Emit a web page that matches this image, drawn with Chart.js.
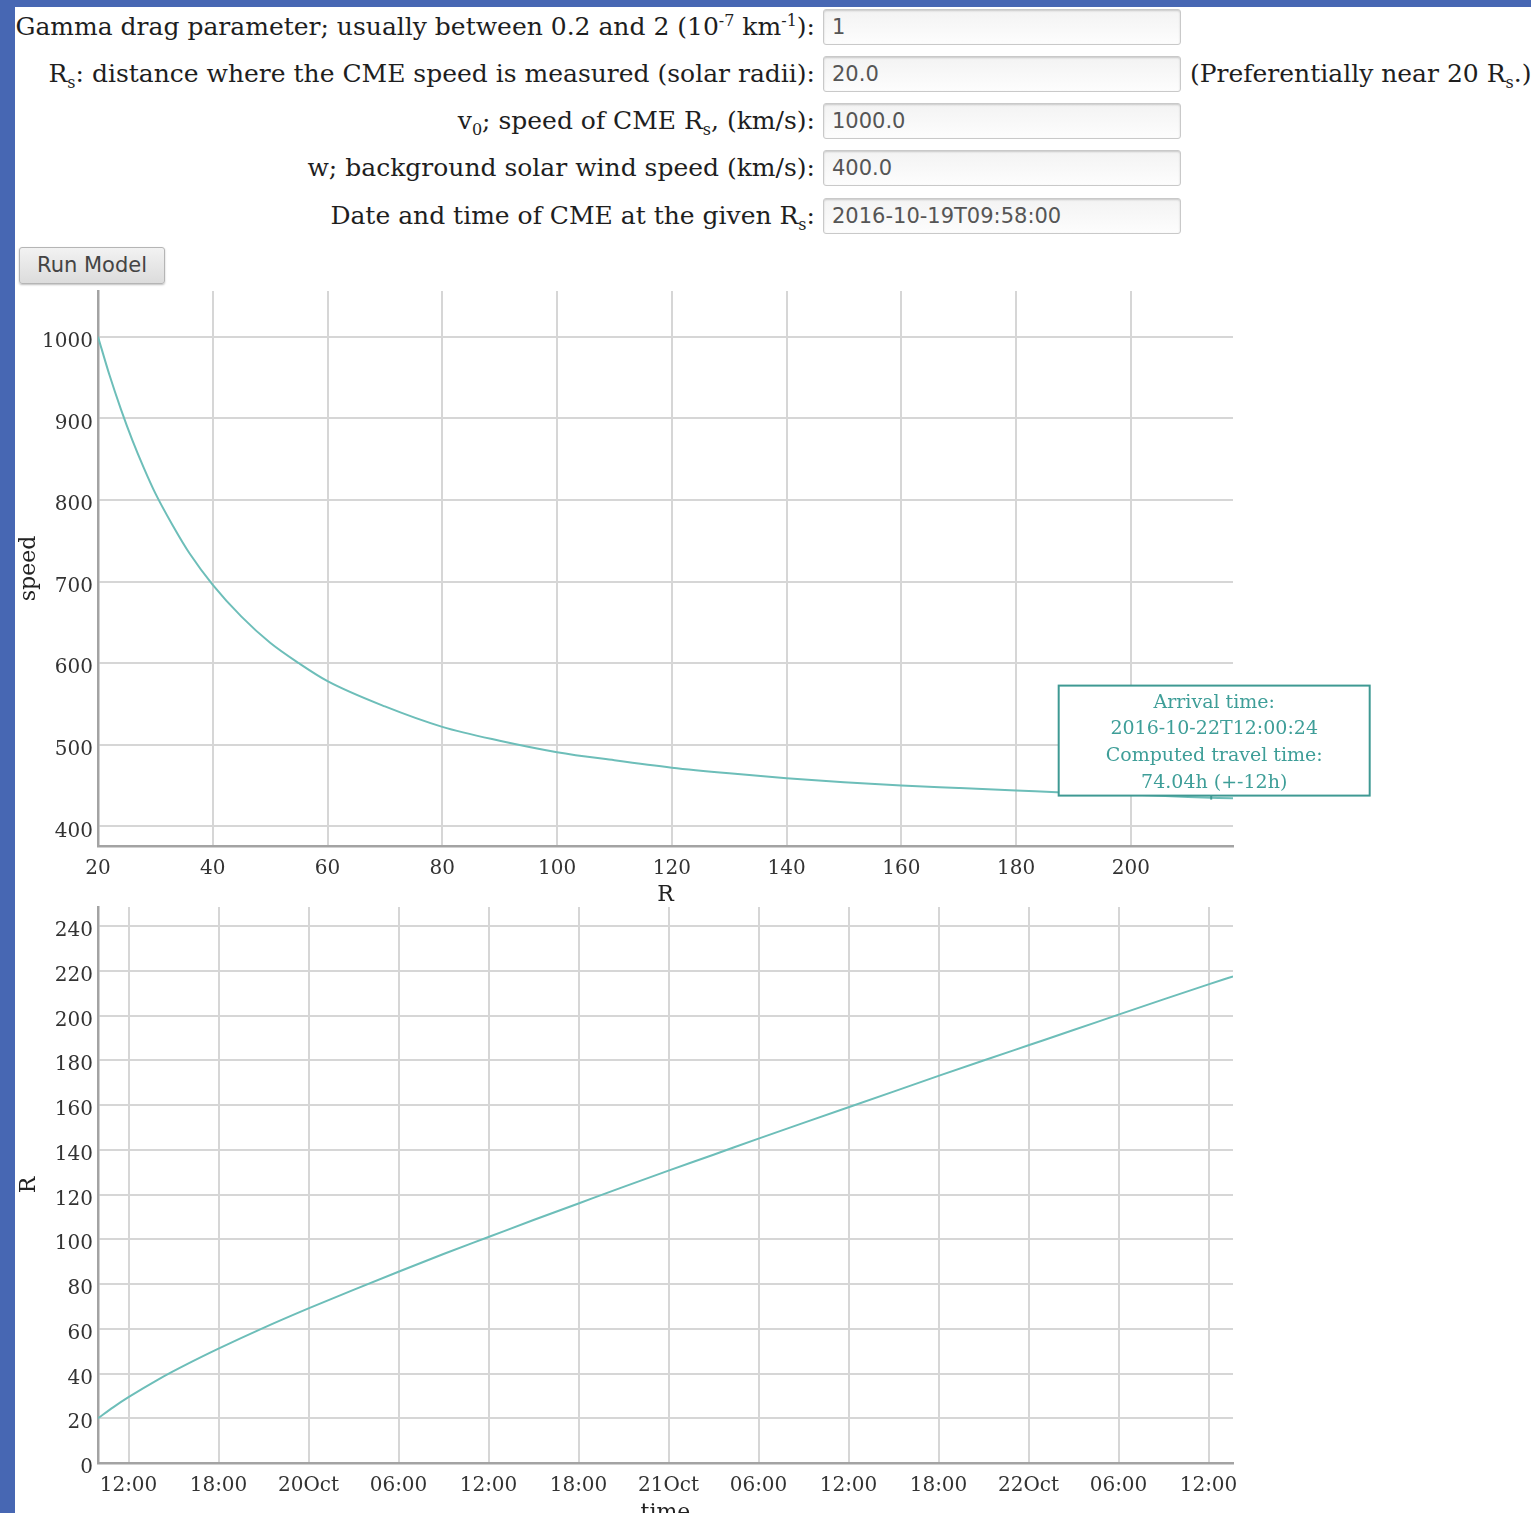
<!DOCTYPE html>
<html>
<head>
<meta charset="utf-8">
<title>Drag-based model</title>
<script src="https://cdn.jsdelivr.net/npm/chart.js@4.4.0/dist/chart.umd.min.js"></script>
<style>
  html, body { margin: 0; padding: 0; width: 1531px; height: 1513px; overflow: hidden; background: #4767b3; }
  #page { position: absolute; left: 15px; top: 7px; width: 1516px; height: 1506px; background: #fff; }
  .lbl { position: absolute; left: 0; width: 800px; height: 36px; line-height: 36px; text-align: right;
         font-family: "DejaVu Serif", serif; font-size: 25px; color: #1e1e1e; white-space: nowrap; }
  .lbl sup, .lbl sub { font-size: 16px; line-height: 0; }
  .inp { position: absolute; left: 808px; width: 348px; height: 34px; line-height: 34px; padding-left: 8px;
         border: 1px solid #c9c9c9; border-radius: 3px; background: linear-gradient(#f3f3f3, #fdfdfd);
         box-shadow: inset 0 1px 2px rgba(0,0,0,0.18); font-family: "DejaVu Sans", sans-serif; font-size: 21px; color: #555; }
  .note { position: absolute; left: 1175px; height: 36px; line-height: 36px; font-family: "DejaVu Serif", serif;
          font-size: 25px; color: #1e1e1e; white-space: nowrap; }
  .note sub { font-size: 16px; line-height: 0; }
  #run { position: absolute; left: 4px; top: 240px; width: 144px; height: 35px; line-height: 35px; text-align: center;
         border: 1px solid #b5b5b5; border-radius: 3px; background: linear-gradient(#f2f2f2, #dcdcdc);
         box-shadow: 0 1px 2px rgba(0,0,0,0.25); font-family: "DejaVu Sans", sans-serif; font-size: 21px; color: #444; }
  canvas { position: absolute; left: 0; }
</style>
</head>
<body>
<div id="page">
  <div class="lbl" style="top:2px">Gamma drag parameter; usually between 0.2 and 2 (10<sup>-7</sup> km<sup>-1</sup>):</div>
  <div class="inp" style="top:2px">1</div>

  <div class="lbl" style="top:49px">R<sub>s</sub>: distance where the CME speed is measured (solar radii):</div>
  <div class="inp" style="top:49px">20.0</div>
  <div class="note" style="top:49px">(Preferentially near 20 R<sub>s</sub>.)</div>

  <div class="lbl" style="top:96px">v<sub>0</sub>; speed of CME R<sub>s</sub>, (km/s):</div>
  <div class="inp" style="top:96px">1000.0</div>

  <div class="lbl" style="top:143px">w; background solar wind speed (km/s):</div>
  <div class="inp" style="top:143px">400.0</div>

  <div class="lbl" style="top:191px">Date and time of CME at the given R<sub>s</sub>:</div>
  <div class="inp" style="top:191px">2016-10-19T09:58:00</div>

  <div id="run">Run Model</div>

  <canvas id="speedChart" width="1370" height="625" style="top:278px"></canvas>
  <canvas id="distChart" width="1370" height="640" style="top:893px"></canvas>
</div>

<script>
// speed vs distance (R in solar radii, speed in km/s)
const radius = [20, 22, 24, 26, 28, 30, 33, 36, 40, 45, 50, 55, 60, 70, 80, 90, 100, 110, 120, 130, 140, 150, 160, 170, 180, 190, 200, 210, 217.8];
const speed  = [1000, 953, 911, 873, 839, 808, 769, 734, 696, 657, 625, 600, 578, 547, 522, 505, 491, 481, 472, 465, 459, 454, 450, 447, 444, 441, 439, 436, 434.5];

// distance vs time
const times = [
  "2016-10-19T09:58", "2016-10-19T11:00", "2016-10-19T12:00", "2016-10-19T14:00", "2016-10-19T16:00",
  "2016-10-19T18:00", "2016-10-19T21:00", "2016-10-20T00:00", "2016-10-20T03:00", "2016-10-20T06:00",
  "2016-10-20T09:00", "2016-10-20T12:00", "2016-10-20T15:00", "2016-10-20T18:00", "2016-10-20T21:00",
  "2016-10-21T00:00", "2016-10-21T03:00", "2016-10-21T06:00", "2016-10-21T09:00", "2016-10-21T12:00",
  "2016-10-21T15:00", "2016-10-21T18:00", "2016-10-21T21:00", "2016-10-22T00:00", "2016-10-22T03:00",
  "2016-10-22T06:00", "2016-10-22T09:00", "2016-10-22T12:00", "2016-10-22T13:38"
];
const distance = [20, 25, 29.4, 37.4, 44.5, 51.1, 60.4, 69.1, 77.4, 85.5, 93.4, 101, 108.6, 116, 123.4,
  130.7, 137.8, 145, 152, 159, 166, 173, 179.9, 186.7, 193.5, 200.4, 207.2, 213.9, 217.5];

// axis ticks
const rTicks = [20, 40, 60, 80, 100, 120, 140, 160, 180, 200];
const speedTicks = [400, 500, 600, 700, 800, 900, 1000];
const distTicks = [0, 20, 40, 60, 80, 100, 120, 140, 160, 180, 200, 220, 240];
const timeTicks = [
  "2016-10-19T12:00", "2016-10-19T18:00", "2016-10-20T00:00", "2016-10-20T06:00", "2016-10-20T12:00",
  "2016-10-20T18:00", "2016-10-21T00:00", "2016-10-21T06:00", "2016-10-21T12:00", "2016-10-21T18:00",
  "2016-10-22T00:00", "2016-10-22T06:00", "2016-10-22T12:00"
];
const timeTickLabels = ["12:00", "18:00", "20Oct", "06:00", "12:00", "18:00", "21Oct", "06:00", "12:00", "18:00", "22Oct", "06:00", "12:00"];

// arrival annotation
const arrivalR = 214;
const arrivalSpeed = 435.3;
const arrivalText = ["Arrival time:", "2016-10-22T12:00:24", "Computed travel time:", "74.04h (+-12h)"];

const toMs = s => Date.parse(s + ":00Z");

const lineColor = "#6dbeb9";
const gridColor = "#d6d6d6";
const axisColor = "#a3a3a3";
const tickFont = { family: "DejaVu Serif", size: 20 };
const titleFont = { family: "DejaVu Serif", size: 22 };

// fixed axis box sizes, no extra label padding around the plot
function fixSize(prop, n) {
  return s => {
    s[prop] = n;
    s.paddingTop = 0; s.paddingBottom = 0; s.paddingLeft = 0; s.paddingRight = 0;
  };
}

function axisBase(extra) {
  return Object.assign({
    grid: { color: gridColor, lineWidth: 2, drawTicks: false },
    border: { color: axisColor, width: 2.5 },
  }, extra);
}

const arrivalBox = {
  id: "arrivalBox",
  afterDatasetsDraw(chart) {
    const { ctx, scales: { x, y } } = chart;
    const px = x.getPixelForValue(arrivalR);
    const py = y.getPixelForValue(arrivalSpeed);
    const w = 311, h = 110;
    const bottom = py - 2;
    const left = px + 3 - w / 2;
    ctx.save();
    ctx.fillStyle = "#fff";
    ctx.fillRect(left, bottom - h, w, h);
    ctx.strokeStyle = "#3f9993";
    ctx.lineWidth = 2;
    ctx.strokeRect(left, bottom - h, w, h);
    ctx.beginPath();
    ctx.moveTo(px, bottom);
    ctx.lineTo(px, py + 2);
    ctx.stroke();
    ctx.fillStyle = "#3e9e98";
    ctx.font = '19px "DejaVu Serif"';
    ctx.textAlign = "center";
    ctx.textBaseline = "middle";
    arrivalText.forEach((t, i) => ctx.fillText(t, px + 3, bottom - h + 17 + i * 26.7));
    ctx.restore();
  }
};

new Chart(document.getElementById("speedChart").getContext("2d"), {
  type: "line",
  data: {
    datasets: [{
      data: radius.map((r, i) => ({ x: r, y: speed[i] })),
      borderColor: lineColor, borderWidth: 2, pointRadius: 0,
      cubicInterpolationMode: "monotone", fill: false
    }]
  },
  options: {
    responsive: false, animation: false,
    layout: { padding: { top: 6, right: 152, left: 0, bottom: 0 } },
    plugins: { legend: { display: false }, tooltip: { enabled: false } },
    scales: {
      x: axisBase({
        type: "linear", min: 20, max: 217.8,
        afterBuildTicks: s => { s.ticks = rTicks.map(v => ({ value: v })); },
        afterFit: fixSize("height", 64),
        ticks: { font: tickFont, color: "#333", padding: 11, maxRotation: 0, autoSkip: false, callback: v => String(v) },
        title: { display: true, text: "R", font: titleFont, color: "#222", padding: { top: 0, bottom: 2 } }
      }),
      y: axisBase({
        type: "linear", min: 376, max: 1056,
        afterBuildTicks: s => { s.ticks = speedTicks.map(v => ({ value: v })); },
        afterFit: fixSize("width", 83),
        ticks: { font: tickFont, color: "#333", padding: 5, labelOffset: 5, callback: v => String(v) },
        title: { display: true, text: "speed", font: titleFont, color: "#222", padding: { top: 1, bottom: 0 } }
      })
    }
  },
  plugins: [arrivalBox]
});

new Chart(document.getElementById("distChart").getContext("2d"), {
  type: "line",
  data: {
    datasets: [{
      data: times.map((t, i) => ({ x: toMs(t), y: distance[i] })),
      borderColor: lineColor, borderWidth: 2, pointRadius: 0,
      cubicInterpolationMode: "monotone", fill: false
    }]
  },
  options: {
    responsive: false, animation: false,
    layout: { padding: { top: 7, right: 152, left: 0, bottom: 0 } },
    plugins: { legend: { display: false }, tooltip: { enabled: false } },
    scales: {
      x: axisBase({
        type: "linear", min: toMs(times[0]), max: toMs(times[times.length - 1]),
        afterBuildTicks: s => { s.ticks = timeTicks.map(t => ({ value: toMs(t) })); },
        afterFit: fixSize("height", 77),
        ticks: {
          font: tickFont, color: "#333", padding: 11, maxRotation: 0, autoSkip: false,
          callback: v => timeTickLabels[timeTicks.findIndex(t => toMs(t) === v)]
        },
        title: { display: true, text: "time", font: titleFont, color: "#222", padding: { top: 0, bottom: 14 } }
      }),
      y: axisBase({
        type: "linear", min: 0, max: 248.5,
        afterBuildTicks: s => { s.ticks = distTicks.map(v => ({ value: v })); },
        afterFit: fixSize("width", 83),
        ticks: { font: tickFont, color: "#333", padding: 5, labelOffset: 5, callback: v => String(v) },
        title: { display: true, text: "R", font: titleFont, color: "#222", padding: { top: 1, bottom: 0 } }
      })
    }
  }
});
</script>
</body>
</html>
